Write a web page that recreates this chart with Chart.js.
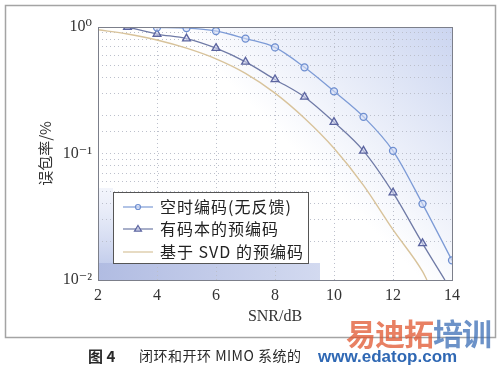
<!DOCTYPE html>
<html><head><meta charset="utf-8">
<script src="https://cdn.jsdelivr.net/npm/chart.js@4"></script>
<style>html,body{margin:0;padding:0;background:#fff;}#wrap{position:relative;width:500px;height:382px;}</style>
</head><body><div id="wrap"><canvas id="c" width="500" height="382"></canvas></div>
<script>
// ---- data ----
const snrSTC = [4, 5, 6, 7, 8, 9, 10, 11, 12, 13, 14];
const perSTC = [0.99, 0.98, 0.93, 0.81, 0.69, 0.48, 0.31, 0.195, 0.105, 0.040, 0.0143];
const snrCodebook = [3, 4, 5, 6, 7, 8, 9, 10, 11, 12, 13, 13.76];
const perCodebook = [1.0, 0.88, 0.81, 0.68, 0.53, 0.385, 0.28, 0.177, 0.105, 0.049, 0.0195, 0.01];
const snrSVD = [2, 3, 4, 5, 6, 7, 8, 9, 10, 11, 12, 13, 13.15];
const perSVD = [0.95, 0.88, 0.79, 0.68, 0.56, 0.43, 0.30, 0.19, 0.11, 0.056, 0.025, 0.0117, 0.01];
const seriesLabels = ['空时编码(无反馈)', '有码本的预编码', '基于 SVD 的预编码'];
const xTicks = [2, 4, 6, 8, 10, 12, 14];
const yTickValues = [1, 0.1, 0.01];
const yTickLabels = ['10⁰', '10⁻¹', '10⁻²'];
const xTitle = 'SNR/dB';
const yTitle = '误包率/%';
const caption = '闭环和开环 MIMO 系统的';
const captionNo = '图 4';
const watermark = '易迪拓培训';
const watermarkUrl = 'www.edatop.com';

function pts(xs, ys) { return xs.map((x, i) => ({ x: x, y: ys[i] })); }

const CJK = '"Noto Sans CJK SC", sans-serif';
const SERIF = '"Liberation Serif", "DejaVu Serif", serif';

const bgPlugin = {
  id: 'bg',
  beforeDraw(chart) {
    const { ctx, chartArea: a } = chart;
    ctx.save();
    ctx.fillStyle = '#fff';
    ctx.fillRect(0, 0, chart.width, chart.height);
    ctx.strokeStyle = '#a4a4a4';
    ctx.lineWidth = 1.5;
    ctx.strokeRect(5.5, 5.5, 490, 332);
    const g = ctx.createLinearGradient(a.right, a.top, a.left + a.width * 0.6, a.top + a.height * 0.55);
    g.addColorStop(0, '#cbd5f0');
    g.addColorStop(1, '#ffffff');
    ctx.fillStyle = g;
    ctx.fillRect(a.left, a.top, a.width, a.height);
    const g2 = ctx.createLinearGradient(a.left, 0, a.left + 225, 0);
    g2.addColorStop(0, '#b1bce2');
    g2.addColorStop(1, '#d3daf0');
    ctx.fillStyle = g2;
    ctx.fillRect(a.left, 263, 222, a.bottom - 263);
    const g3 = ctx.createLinearGradient(0, 188, 0, 263);
    g3.addColorStop(0, 'rgba(215,222,244,0.3)');
    g3.addColorStop(1, 'rgba(190,201,234,0.9)');
    ctx.fillStyle = g3;
    ctx.fillRect(a.left, 188, 15, 75);
    ctx.restore();
  },
  afterDraw(chart) {
    const { ctx, chartArea: a } = chart;
    ctx.save();
    ctx.strokeStyle = '#7c7f8a';
    ctx.lineWidth = 1;
    ctx.strokeRect(a.left + 0.5, a.top + 0.5, a.width, a.height);
    ctx.fillStyle = '#2a2a2a';
    ctx.textBaseline = 'middle';
    ctx.font = 'bold 15px ' + CJK;
    ctx.fillText(captionNo, 88, 356);
    ctx.font = '14px ' + CJK;
    ctx.letterSpacing = '0.5px';
    ctx.fillText(caption, 139, 356);
    ctx.letterSpacing = '0px';
    ctx.font = 'bold 30px ' + CJK;
    ctx.globalAlpha = 0.75;
    const chars = watermark.split('');
    const cols = ['#e0552f', '#e0552f', '#e0552f', '#3b6db5', '#3b6db5'];
    let x = 346;
    chars.forEach((ch, i) => { ctx.fillStyle = cols[i]; ctx.fillText(ch, x, 334); x += 29; });
    ctx.globalAlpha = 1;
    ctx.font = 'bold 17px "Liberation Sans", sans-serif';
    ctx.fillStyle = '#2f68b4';
    ctx.fillText(watermarkUrl, 318, 357);
    ctx.restore();
  },
  afterDatasetsDraw(chart) {
    const { ctx } = chart;
    ctx.save();
    ctx.fillStyle = '#fff';
    ctx.fillRect(113, 192, 195, 71);
    ctx.strokeStyle = '#555';
    ctx.lineWidth = 1;
    ctx.strokeRect(113.5, 192.5, 195, 71);
    const rows = [207, 229, 252];
    chart.data.datasets.forEach((ds, i) => {
      const y = rows[i];
      ctx.strokeStyle = ds.borderColor;
      ctx.lineWidth = 1.2;
      ctx.beginPath(); ctx.moveTo(123, y); ctx.lineTo(153, y); ctx.stroke();
      if (ds.showMarker) {
        ctx.fillStyle = ds.pointBackgroundColor;
        ctx.strokeStyle = ds.pointBorderColor;
        ctx.lineWidth = 1.2;
        ctx.beginPath();
        if (ds.pointStyle === 'circle') { ctx.arc(138, y, ds.legendRadius, 0, Math.PI * 2); }
        else { const r = ds.legendRadius; ctx.moveTo(138, y - r); ctx.lineTo(138 + r, y + r * 0.6); ctx.lineTo(138 - r, y + r * 0.6); ctx.closePath(); }
        ctx.fill(); ctx.stroke();
      }
      ctx.fillStyle = '#222';
      ctx.font = '16px ' + CJK;
      ctx.letterSpacing = '1px';
      ctx.textBaseline = 'middle';
      ctx.fillText(ds.label, 160, y);
    });
    ctx.restore();
  }
};

new Chart(document.getElementById('c'), {
  type: 'line',
  data: {
    datasets: [
      {
        label: seriesLabels[0], data: pts(snrSTC, perSTC),
        borderColor: '#7d9bd6', borderWidth: 1.3,
        pointStyle: 'circle', pointRadius: 3.5, pointBorderWidth: 1.3,
        pointBorderColor: '#6d8ed0', pointBackgroundColor: 'rgba(215,224,246,0.6)',
        cubicInterpolationMode: 'monotone', showMarker: true, legendRadius: 2.5
      },
      {
        label: seriesLabels[1], data: pts(snrCodebook, perCodebook),
        borderColor: '#6f7aa6', borderWidth: 1.3,
        pointStyle: 'triangle',
        pointRadius: (c) => Number.isInteger(c.raw && c.raw.x) ? 4.5 : 0,
        pointBorderWidth: 1.3,
        pointBorderColor: '#5b64a0', pointBackgroundColor: 'rgba(210,214,240,0.6)',
        cubicInterpolationMode: 'monotone', showMarker: true, legendRadius: 3.5
      },
      {
        label: seriesLabels[2], data: pts(snrSVD, perSVD),
        borderColor: '#d8c39b', borderWidth: 1.4,
        pointRadius: 0, cubicInterpolationMode: 'monotone', showMarker: false
      }
    ]
  },
  options: {
    responsive: false, animation: false, devicePixelRatio: 1,
    layout: { padding: { left: 0, right: 48, top: 27, bottom: 56 } },
    plugins: { legend: { display: false }, tooltip: { enabled: false } },
    scales: {
      x: {
        type: 'linear', min: 2, max: 14,
        afterFit(s) { s.height = 46; },
        afterBuildTicks(s) { s.ticks = xTicks.map(v => ({ value: v })); },
        ticks: { color: '#333', font: { family: SERIF, size: 16 }, padding: 6, maxRotation: 0 },
        grid: { color: '#bcc0cc', drawTicks: false, lineWidth: 1 },
        border: { display: false, dash: [1, 3] },
        title: { display: true, text: xTitle, color: '#333', font: { family: SERIF, size: 16 }, padding: { top: 2, bottom: 0 } }
      },
      y: {
        type: 'logarithmic', min: 0.01, max: 1,
        afterFit(s) { s.width = 98; },
        ticks: {
          autoSkip: false, color: '#333', font: { family: SERIF, size: 16 }, padding: 6,
          callback(v) { const i = yTickValues.findIndex(t => Math.abs(t - v) < t * 1e-6); return i >= 0 ? yTickLabels[i] : ''; }
        },
        grid: { color: '#bcc0cc', drawTicks: false, lineWidth: 1 },
        border: { display: false, dash: [1, 3] },
        title: { display: true, text: yTitle, color: '#333', font: { family: CJK, size: 15 }, padding: { top: 36, bottom: 0 } }
      }
    }
  },
  plugins: [bgPlugin]
});
</script>
</body></html>
